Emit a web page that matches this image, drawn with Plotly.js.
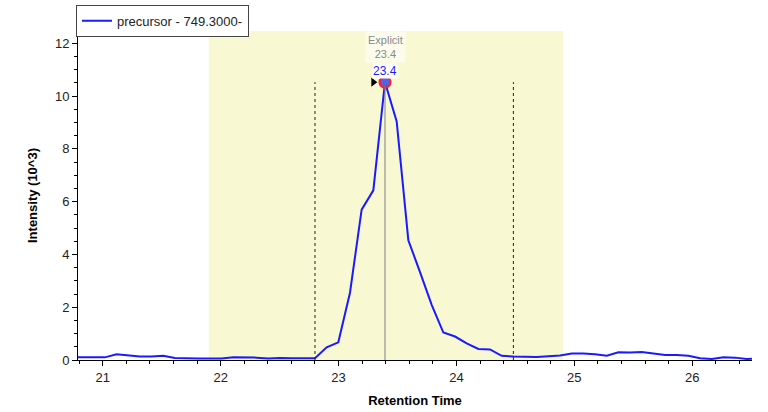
<!DOCTYPE html>
<html>
<head>
<meta charset="utf-8">
<script src="https://cdn.plot.ly/plotly-3.0.1.min.js"></script>
<style>html,body{margin:0;padding:0;background:#fff;}#chart{width:768px;height:412px;}</style>
</head>
<body>
<div id="chart"></div>
<script>
// Retention times (min)
var times = [20.721, 20.820, 20.919, 21.018, 21.117, 21.216, 21.315, 21.414, 21.513, 21.612,
             21.711, 21.810, 21.909, 22.008, 22.107, 22.206, 22.305, 22.404, 22.503, 22.602,
             22.701, 22.800, 22.899, 22.998, 23.097, 23.196, 23.295, 23.394, 23.493, 23.592,
             23.691, 23.790, 23.889, 23.988, 24.087, 24.186, 24.285, 24.384, 24.483, 24.582,
             24.681, 24.780, 24.879, 24.978, 25.077, 25.176, 25.275, 25.374, 25.473, 25.572,
             25.671, 25.770, 25.869, 25.968, 26.067, 26.166, 26.265, 26.364, 26.463, 26.562];
// Intensity (10^3)
var intensity = [0.10, 0.10, 0.10, 0.10, 0.22, 0.17, 0.13, 0.13, 0.16, 0.08,
                 0.06, 0.06, 0.06, 0.06, 0.10, 0.10, 0.09, 0.06, 0.08, 0.07,
                 0.06, 0.07, 0.48, 0.67, 2.55, 5.70, 6.43, 10.53, 9.04, 4.54,
                 3.33, 2.09, 1.04, 0.89, 0.63, 0.42, 0.40, 0.16, 0.13, 0.11,
                 0.11, 0.14, 0.17, 0.25, 0.25, 0.22, 0.16, 0.29, 0.28, 0.30,
                 0.25, 0.19, 0.19, 0.16, 0.07, 0.04, 0.10, 0.09, 0.04, 0.05];
var seriesName = 'precursor - 749.3000-';
var peakTime = 23.394;
var peakIntensity = 10.53;
var peakLabel = '23.4';
var explicitLabel = 'Explicit<br>23.4';
var integStart = 22.800;
var integEnd = 24.483;
var shadeStart = 21.90;
var shadeEnd = 24.905;
var arrowTime = 23.295;
var xRange = [20.79, 26.507];
var yRange = [0, 12.47];
var xTicks = [21, 22, 23, 24, 25, 26];
var yTicks = [0, 2, 4, 6, 8, 10, 12];

var font = 'Liberation Sans, Arial, sans-serif';

var traces = [
  {
    x: times, y: intensity, type: 'scatter', mode: 'lines', name: seriesName,
    line: {color: '#1a1aff', width: 2}, hoverinfo: 'x+y'
  },
  {
    x: [peakTime], y: [peakIntensity], type: 'scatter', mode: 'markers', showlegend: false,
    marker: {size: 11, color: 'rgba(70,80,240,0.9)', line: {color: '#ff2020', width: 2}}
  },
  {
    x: [arrowTime], y: [peakIntensity], type: 'scatter', mode: 'markers', showlegend: false,
    marker: {size: 8, symbol: 'triangle-right', color: '#000'}
  }
];

var layout = {
  width: 768, height: 412,
  margin: {l: 78, r: 16, t: 31, b: 52, autoexpand: false},
  paper_bgcolor: '#fff', plot_bgcolor: '#fff',
  font: {family: font, size: 12, color: '#222'},
  showlegend: true,
  legend: {
    x: -0.003, y: 1.08, xanchor: 'left', yanchor: 'top',
    bordercolor: '#444', borderwidth: 1, bgcolor: '#fff',
    font: {family: font, size: 13, color: '#222'},
    tracegroupgap: 0, itemwidth: 30
  },
  xaxis: {
    range: xRange, tickvals: xTicks, ticktext: xTicks.map(String),
    showgrid: false, zeroline: false, showline: true, linecolor: '#000', linewidth: 1,
    ticks: 'outside', ticklen: 5, tickcolor: '#000',
    minor: {dtick: 0.2, ticks: 'outside', ticklen: 3, tickcolor: '#000', showgrid: false},
    tickfont: {family: font, size: 13, color: '#222'},
    title: {text: '<b>Retention Time</b>', font: {family: font, size: 13, color: '#000'}, standoff: 12}
  },
  yaxis: {
    range: yRange, tickvals: yTicks, ticktext: yTicks.map(String),
    showgrid: false, zeroline: false, showline: true, linecolor: '#000', linewidth: 1,
    ticks: 'outside', ticklen: 5, tickcolor: '#000',
    minor: {dtick: 0.5, ticks: 'outside', ticklen: 3, tickcolor: '#000', showgrid: false},
    tickfont: {family: font, size: 13, color: '#222'},
    title: {text: '<b>Intensity (10^3)</b>', font: {family: font, size: 13, color: '#000'}, standoff: 14}
  },
  shapes: [
    {type: 'rect', xref: 'x', yref: 'paper', x0: shadeStart, x1: shadeEnd, y0: 0, y1: 1,
     fillcolor: '#f8f8d2', line: {width: 0}, layer: 'below'},
    {type: 'line', xref: 'x', yref: 'y', x0: integStart, x1: integStart, y0: 0, y1: peakIntensity,
     line: {color: '#222', width: 1, dash: 'dot'}},
    {type: 'line', xref: 'x', yref: 'y', x0: integEnd, x1: integEnd, y0: 0, y1: peakIntensity,
     line: {color: '#222', width: 1, dash: 'dot'}},
    {type: 'line', xref: 'x', yref: 'y', x0: peakTime, x1: peakTime, y0: 0, y1: peakIntensity,
     line: {color: '#808080', width: 1}}
  ],
  annotations: [
    {x: peakTime, y: peakIntensity, xref: 'x', yref: 'y', text: explicitLabel, showarrow: false,
     yshift: 19, yanchor: 'bottom', bgcolor: '#fcfcec', borderpad: 2,
     font: {family: font, size: 11, color: '#8a8a8a'}},
    {x: peakTime, y: peakIntensity, xref: 'x', yref: 'y', text: peakLabel, showarrow: false,
     yshift: 11, yanchor: 'middle', bgcolor: '#ffffff', borderpad: 0,
     font: {family: font, size: 12, color: '#1a1aff'}}
  ]
};

Plotly.newPlot('chart', traces, layout, {displayModeBar: false, staticPlot: true});
</script>
</body>
</html>
